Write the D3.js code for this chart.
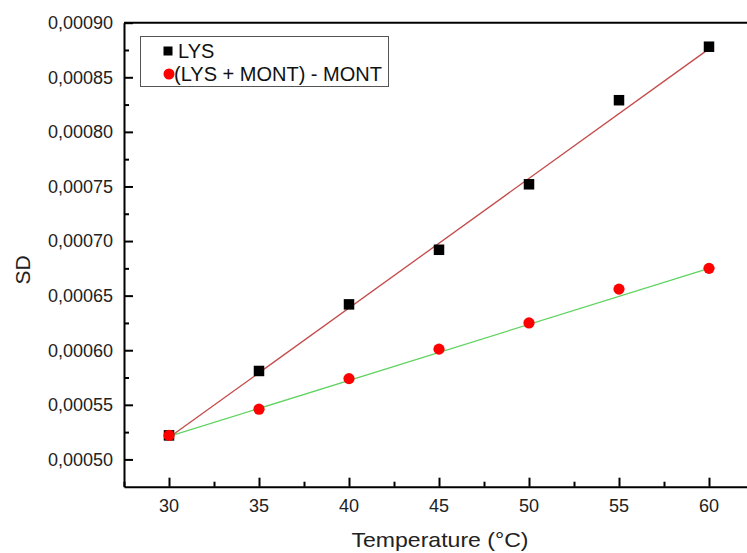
<!DOCTYPE html>
<html>
<head>
<meta charset="utf-8">
<script src="https://cdn.jsdelivr.net/npm/d3@7"></script>
<style>
  body { margin: 0; background: #fff; }
  svg { display: block; font-family: "Liberation Sans", Arial, sans-serif; }
</style>
</head>
<body>
<svg id="chart" width="747" height="553"></svg>
<script>
// temperature values (x) shared by both series
const temps = [30, 35, 40, 45, 50, 55, 60];
// SD values
const lys = [0.000522, 0.000581, 0.000642, 0.000692, 0.000752, 0.000829, 0.000878];
const lysMont = [0.000522, 0.000546, 0.000574, 0.000601, 0.000625, 0.000656, 0.000675];
// linear fit end points (x = 30 and x = 60)
const fitX = [30, 60];
const fitLys = [0.000520, 0.000876];
const fitLysMont = [0.000521, 0.000675];
// axis ticks
const xTicks = [30, 35, 40, 45, 50, 55, 60];
const xMinor = [27.5, 32.5, 37.5, 42.5, 47.5, 52.5, 57.5, 62.5];
const yTicks = [0.00050, 0.00055, 0.00060, 0.00065, 0.00070, 0.00075, 0.00080, 0.00085, 0.00090];
const yMinor = [0.000525, 0.000575, 0.000625, 0.000675, 0.000725, 0.000775, 0.000825, 0.000875];
const legendLabels = ["LYS", "(LYS + MONT) - MONT"];

const svg = d3.select("#chart");
const mLeft = 124, mTop = 22.7, mRight = 754, mBottom = 486.7;

const x = d3.scaleLinear().domain([27.5, 62.5]).range([mLeft, mRight]);
const y = d3.scaleLinear().domain([0.000475, 0.00090]).range([mBottom, mTop]);

const fmt = v => d3.format(".5f")(v).replace(".", ",");

// frame (top/right axes without ticks)
svg.append("line").attr("x1", mLeft).attr("x2", mRight).attr("y1", mTop).attr("y2", mTop)
  .attr("stroke", "#000").attr("stroke-width", 2);
svg.append("line").attr("x1", mRight).attr("x2", mRight).attr("y1", mTop).attr("y2", mBottom)
  .attr("stroke", "#000").attr("stroke-width", 2);

// bottom axis, ticks inward
const xAxis = svg.append("g").attr("transform", `translate(0,${mBottom})`)
  .call(d3.axisTop(x).tickValues(xTicks).tickSize(9).tickFormat("").tickSizeOuter(0));
svg.append("g").attr("transform", `translate(0,${mBottom})`)
  .call(d3.axisTop(x).tickValues(xMinor).tickSize(5).tickFormat(""))
  .call(g => g.select(".domain").remove());
xAxis.select(".domain").attr("stroke-width", 2);

svg.append("g").selectAll("text").data(xTicks).join("text")
  .attr("x", d => x(d)).attr("y", 512)
  .attr("text-anchor", "middle").attr("font-size", 18).attr("fill", "#222")
  .text(d => d);

// left axis, ticks inward
const yAxis = svg.append("g").attr("transform", `translate(${mLeft},0)`)
  .call(d3.axisRight(y).tickValues(yTicks).tickSize(9).tickFormat("").tickSizeOuter(0));
svg.append("g").attr("transform", `translate(${mLeft},0)`)
  .call(d3.axisRight(y).tickValues(yMinor).tickSize(5).tickFormat(""))
  .call(g => g.select(".domain").remove());
yAxis.select(".domain").attr("stroke-width", 2);
svg.selectAll(".tick line").attr("stroke-width", 2);

svg.append("g").selectAll("text").data(yTicks).join("text")
  .attr("x", 113).attr("y", d => y(d)).attr("dy", "0.35em")
  .attr("text-anchor", "end").attr("font-size", 18).attr("fill", "#222")
  .text(fmt);

// axis titles
svg.append("text").attr("x", 440).attr("y", 547)
  .attr("text-anchor", "middle").attr("font-size", 21)
  .attr("textLength", 177).attr("lengthAdjust", "spacingAndGlyphs")
  .attr("fill", "#222").text("Temperature (°C)");
svg.append("text").attr("transform", "translate(30,270) rotate(-90)")
  .attr("text-anchor", "middle").attr("font-size", 21).attr("fill", "#222")
  .text("SD");

// fit lines
const line = d3.line().x(d => x(d[0])).y(d => y(d[1]));
svg.append("path").datum(d3.zip(fitX, fitLys)).attr("d", line)
  .attr("fill", "none").attr("stroke", "#c44a4a").attr("stroke-width", 1.3);
svg.append("path").datum(d3.zip(fitX, fitLysMont)).attr("d", line)
  .attr("fill", "none").attr("stroke", "#5fd35f").attr("stroke-width", 1.3);

// markers
const s = 10.5;
svg.append("g").selectAll("rect").data(d3.zip(temps, lys)).join("rect")
  .attr("x", d => x(d[0]) - s / 2).attr("y", d => y(d[1]) - s / 2)
  .attr("width", s).attr("height", s).attr("fill", "#000");
svg.append("g").selectAll("circle").data(d3.zip(temps, lysMont)).join("circle")
  .attr("cx", d => x(d[0])).attr("cy", d => y(d[1])).attr("r", 5.6)
  .attr("fill", "#ff0000");

// legend
const lg = svg.append("g");
lg.append("rect").attr("x", 140.5).attr("y", 36.5).attr("width", 248).attr("height", 50)
  .attr("fill", "#fff").attr("stroke", "#555").attr("stroke-width", 1);
lg.append("rect").attr("x", 163.5).attr("y", 46.5).attr("width", 9).attr("height", 9).attr("fill", "#000");
lg.append("circle").attr("cx", 169).attr("cy", 74).attr("r", 5.5).attr("fill", "#ff0000");
lg.selectAll("text").data(legendLabels).join("text")
  .attr("x", (d, i) => i === 0 ? 178 : 174)
  .attr("y", (d, i) => i === 0 ? 58 : 81)
  .attr("font-size", 20).attr("fill", "#111")
  .text(d => d);
</script>
</body>
</html>
